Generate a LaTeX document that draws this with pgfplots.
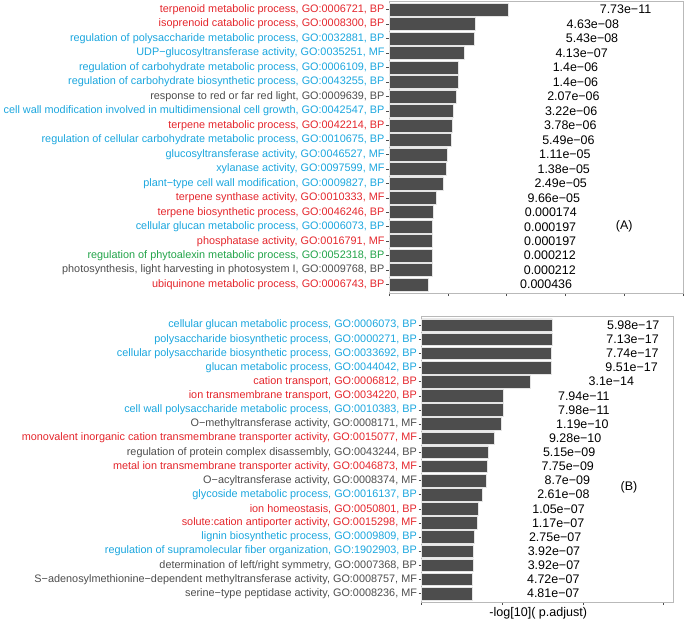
\documentclass[border=0pt]{standalone}
\usepackage{pgfplots}
\pgfplotsset{compat=1.18}
\usepackage{pgfplotstable}
\usepackage{fontspec}
\setmainfont{Liberation Sans}
\definecolor{cred}{RGB}{228,38,44}
\definecolor{cblue}{RGB}{27,166,222}
\definecolor{cgreen}{RGB}{34,163,73}
\definecolor{cgray}{RGB}{77,77,77}
\definecolor{barfill}{RGB}{77,77,77}
\newcommand{\R}[1]{\textcolor{cred}{#1}}
\newcommand{\B}[1]{\textcolor{cblue}{#1}}
\newcommand{\G}[1]{\textcolor{cgreen}{#1}}
\newcommand{\K}[1]{\textcolor{cgray}{#1}}

\pgfplotstableread{
y v p
1 10.112 7.73e−11
2 7.334 4.63e−08
3 7.265 5.43e−08
4 6.384 4.13e−07
5 5.854 1.4e−06
6 5.854 1.4e−06
7 5.684 2.07e−06
8 5.492 3.22e−06
9 5.423 3.78e−06
10 5.260 5.49e−06
11 4.955 1.11e−05
12 4.860 1.38e−05
13 4.604 2.49e−05
14 4.015 9.66e−05
15 3.759 0.000174
16 3.706 0.000197
17 3.706 0.000197
18 3.674 0.000212
19 3.674 0.000212
20 3.361 0.000436
}\tblA

\pgfplotstableread{
y v p
1 16.223 5.98e−17
2 16.147 7.13e−17
3 16.111 7.74e−17
4 16.022 9.51e−17
5 13.509 3.1e−14
6 10.100 7.94e−11
7 10.098 7.98e−11
8 9.924 1.19e−10
9 9.032 9.28e−10
10 8.288 5.15e−09
11 8.111 7.75e−09
12 8.060 8.7e−09
13 7.583 2.61e−08
14 6.979 1.05e−07
15 6.932 1.17e−07
16 6.561 2.75e−07
17 6.407 3.92e−07
18 6.407 3.92e−07
19 6.326 4.72e−07
20 6.318 4.81e−07
}\tblB

\pgfplotsset{
  goplot/.style={
    scale only axis,
    bar width=0.9,
    xmin=0, ymin=0.4, ymax=20.6, y dir=reverse,
    xticklabels={},
    ytick={1,...,20},
    tick align=outside, xtick pos=left, ytick pos=left,
    major tick length=2.8bp,
    tick style={black!70, line width=0.5bp},
    axis line style={gray!55, line width=0.5bp},
    yticklabel style={font=\fontsize{10.9}{12}\selectfont, inner sep=1.5bp},
    clip=false,
  },
  barsty/.style={xbar, fill=barfill, draw=gray!20, line width=0.6bp},
  valsty/.style={draw=none, nodes near coords, point meta=explicit symbolic,
    nodes near coords style={anchor=center, font=\fontsize{12.5}{14}\selectfont, text=black}},
}

\begin{document}
\begin{tikzpicture}
\useasboundingbox (0,0) rectangle (685bp,-622bp);
\begin{axis}[goplot,
  at={(389bp,-1bp)}, anchor=north west,
  width=294bp, height=292.3bp,
  xmax=25, xtick={0,5,10,15,20,25},
  yticklabels={
    {\R{terpenoid metabolic process, GO:0006721, BP}},
    {\R{isoprenoid catabolic process, GO:0008300, BP}},
    {\B{regulation of polysaccharide metabolic process, GO:0032881, BP}},
    {\B{UDP−glucosyltransferase activity, GO:0035251, MF}},
    {\B{regulation of carbohydrate metabolic process, GO:0006109, BP}},
    {\B{regulation of carbohydrate biosynthetic process, GO:0043255, BP}},
    {\K{response to red or far red light, GO:0009639, BP}},
    {\B{cell wall modification involved in multidimensional cell growth, GO:0042547, BP}},
    {\R{terpene metabolic process, GO:0042214, BP}},
    {\B{regulation of cellular carbohydrate metabolic process, GO:0010675, BP}},
    {\B{glucosyltransferase activity, GO:0046527, MF}},
    {\B{xylanase activity, GO:0097599, MF}},
    {\B{plant−type cell wall modification, GO:0009827, BP}},
    {\R{terpene synthase activity, GO:0010333, MF}},
    {\R{terpene biosynthetic process, GO:0046246, BP}},
    {\B{cellular glucan metabolic process, GO:0006073, BP}},
    {\R{phosphatase activity, GO:0016791, MF}},
    {\G{regulation of phytoalexin metabolic process, GO:0052318, BP}},
    {\K{photosynthesis, light harvesting in photosystem I, GO:0009768, BP}},
    {\R{ubiquinone metabolic process, GO:0006743, BP}}
  },
]
\addplot[barsty] table[x=v, y=y] {\tblA};
\addplot[valsty] table[x expr=\thisrow{v}+10, y=y, meta=p] {\tblA};
\node[font=\fontsize{12.5}{14}\selectfont] at (axis cs:20,16) {(A)};
\end{axis}

\begin{axis}[goplot,
  at={(421.5bp,-316.7bp)}, anchor=north west,
  width=251.5bp, height=285.3bp,
  xmax=31.15, xtick={0,10,20,30},
  xlabel={-log[10]( p.adjust)},
  xlabel style={font=\fontsize{12.6}{14}\selectfont, xshift=-9bp, yshift=8bp},
  yticklabels={
    {\B{cellular glucan metabolic process, GO:0006073, BP}},
    {\B{polysaccharide biosynthetic process, GO:0000271, BP}},
    {\B{cellular polysaccharide biosynthetic process, GO:0033692, BP}},
    {\B{glucan metabolic process, GO:0044042, BP}},
    {\R{cation transport, GO:0006812, BP}},
    {\R{ion transmembrane transport, GO:0034220, BP}},
    {\B{cell wall polysaccharide metabolic process, GO:0010383, BP}},
    {\K{O−methyltransferase activity, GO:0008171, MF}},
    {\R{monovalent inorganic cation transmembrane transporter activity, GO:0015077, MF}},
    {\K{regulation of protein complex disassembly, GO:0043244, BP}},
    {\R{metal ion transmembrane transporter activity, GO:0046873, MF}},
    {\K{O−acyltransferase activity, GO:0008374, MF}},
    {\B{glycoside metabolic process, GO:0016137, BP}},
    {\R{ion homeostasis, GO:0050801, BP}},
    {\R{solute:cation antiporter activity, GO:0015298, MF}},
    {\B{lignin biosynthetic process, GO:0009809, BP}},
    {\B{regulation of supramolecular fiber organization, GO:1902903, BP}},
    {\K{determination of left/right symmetry, GO:0007368, BP}},
    {\K{S−adenosylmethionine−dependent methyltransferase activity, GO:0008757, MF}},
    {\K{serine−type peptidase activity, GO:0008236, MF}}
  },
]
\addplot[barsty] table[x=v, y=y] {\tblB};
\addplot[valsty] table[x expr=\thisrow{v}+10, y=y, meta=p] {\tblB};
\node[font=\fontsize{12.5}{14}\selectfont] at (axis cs:25.7,12.5) {(B)};
\end{axis}
\end{tikzpicture}
\end{document}
